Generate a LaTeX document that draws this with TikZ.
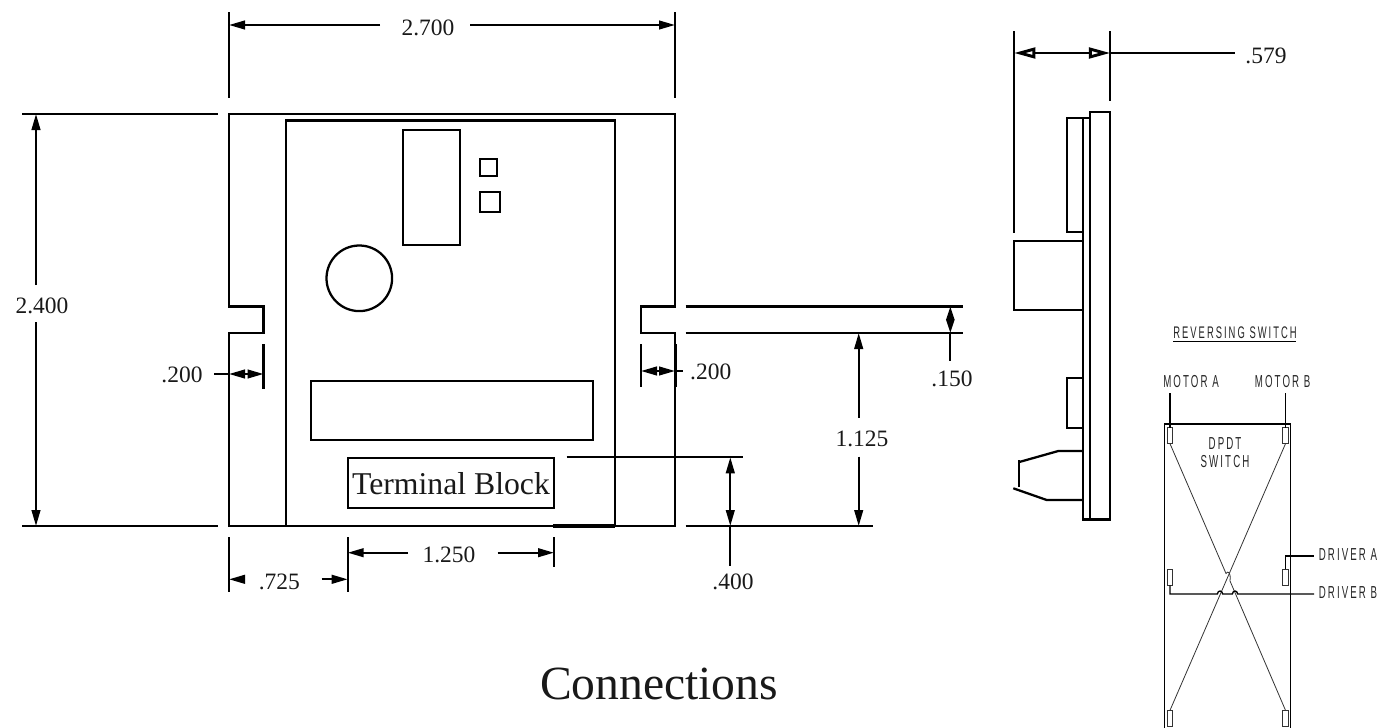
\documentclass[tikz,border=0pt]{standalone}
\usepackage{fontspec}
\setmainfont{Liberation Serif}
\newfontfamily\cadfont[FakeStretch=0.56,LetterSpace=12]{Liberation Sans}
\usetikzlibrary{arrows.meta}
\tikzset{
  partline/.style={line width=1.7pt},
  dimline/.style={line width=1.6pt},
  thinline/.style={line width=0.6pt,color=black!80},
  boxline/.style={line width=1pt},
  dimtip/.style={{Triangle[length=12pt,width=6.5pt]}-{Triangle[length=12pt,width=6.5pt]}},
  endtip/.style={-{Triangle[length=12pt,width=6.5pt]}},
  tiptip/.style={{Triangle[length=10pt,width=6pt]}-{Triangle[length=10pt,width=6pt]}},
  longtip/.style={{Triangle[open,length=16pt,width=8pt,line width=2.2pt]}-{Triangle[open,length=16pt,width=8pt,line width=2.2pt]}},
  dimtext/.style={inner sep=0.75pt,font=\fontsize{17.6}{20}\selectfont,color=black!90},
  cadtext/.style={inner sep=0.75pt,font=\cadfont\fontsize{13}{15}\selectfont,color=black!85}
}
\begin{document}
\begin{tikzpicture}[x=0.75pt,y=0.75pt,yscale=-1,xscale=1]
    \useasboundingbox (0,0) rectangle (1393,728);

    %Plate outline
    \draw [partline] (229,114) -- (675,114) -- (675,306.5) -- (641,306.5) -- (641,333) -- (675,333) -- (675,526) -- (229,526) -- (229,333) -- (263.5,333) -- (263.5,306.5) -- (229,306.5) -- cycle ;
    %Board and parts
    \draw [partline] (286,526) -- (286,120.5) -- (615,120.5) -- (615,526) ;
    \draw [partline] (402.7,130) rectangle (460.3,245.3) ;
    \draw [partline] (480.3,159) rectangle (497.3,176) ;
    \draw [partline] (480.3,191.7) rectangle (499.7,212) ;
    \draw [partline] (359.3,278.3) circle [radius=32.8] ;
    \draw [partline] (311,381) rectangle (593.3,440.3) ;
    \draw [partline] (347.7,457.7) rectangle (554.3,507.7) ;
    \draw [line width=2.4pt] (553,526) -- (615,526) ;

    %Side view
    \draw [partline] (1090,112) rectangle (1110.3,519.5) ;
    \draw [partline] (1083,118) -- (1083,519.5) -- (1090,519.5) ;
    \draw [partline] (1090,118) -- (1067,118) -- (1067,232) -- (1083,232) ;
    \draw [partline] (1083,241.3) -- (1014,241.3) -- (1014,310) -- (1083,310) ;
    \draw [partline] (1083,377.7) -- (1067,377.7) -- (1067,427.7) -- (1083,427.7) ;
    \draw [partline] (1083,451) -- (1058.3,451) -- (1019.3,462) ;
    \draw [partline] (1019,460) -- (1019,486.7) ;
    \draw [partline] (1013.3,488.3) -- (1046.7,500) -- (1083,500) ;

    %Witness lines
    \draw [dimline] (229,12) -- (229,98) (675,12) -- (675,98) ;
    \draw [dimline] (22,114) -- (218,114) (22,526) -- (218,526) ;
    \draw [dimline] (263.5,344) -- (263.5,389) ;
    \draw [dimline] (641,344) -- (641,387) ;
    \draw [line width=2pt] (675.5,344) -- (675.5,387) ;
    \draw [dimline] (685.7,306.5) -- (962.7,306.5) ;
    \draw [dimline] (685.7,333) -- (962.7,333) ;
    \draw [dimline] (685.7,526) -- (873,526) ;
    \draw [dimline] (566.7,457.3) -- (742.7,457.3) ;
    \draw [dimline] (229,537) -- (229,592) (347.7,537) -- (347.7,592) ;
    \draw [dimline] (554,537) -- (554,567) ;
    \draw [dimline] (1014,31) -- (1014,232.5) ;
    \draw [dimline] (1110.3,31) -- (1110.3,101) ;

    %Dimension lines
    \draw [dimline,endtip] (380,25) -- (229,25) ;
    \draw [dimline,endtip] (470,25) -- (675,25) ;
    \draw [dimline,endtip] (36,285) -- (36,114) ;
    \draw [dimline,endtip] (36,322) -- (36,526) ;
    \draw [dimline] (214,374) -- (229,374) ;
    \draw [dimline,dimtip] (229,374) -- (263.5,374) ;
    \draw [dimline,dimtip] (641,371) -- (675,371) ;
    \draw [dimline] (675,371) -- (683,371) ;
    \draw [dimline,tiptip] (950.3,306.5) -- (950.3,333) ;
    \draw [dimline] (950.3,333) -- (950.3,361) ;
    \draw [dimline,endtip] (858.7,417.7) -- (858.7,333) ;
    \draw [dimline,endtip] (858.7,456.7) -- (858.7,526) ;
    \draw [dimline,dimtip] (730.3,457.3) -- (730.3,526) ;
    \draw [dimline] (730.3,526) -- (730.3,565.7) ;
    \draw [dimline,endtip] (408,552.7) -- (347.7,552.7) ;
    \draw [dimline,endtip] (497.7,552.7) -- (554,552.7) ;
    \draw [dimline,endtip] (245,579.3) -- (229,579.3) ;
    \draw [dimline,endtip] (321.7,579.3) -- (347.7,579.3) ;
    \draw [dimline,longtip] (1014,53) -- (1110.3,53) ;
    \draw [dimline] (1110.3,53) -- (1235,53) ;

    %Switch body
    \draw [boxline] (1164.3,728) -- (1164.3,424) -- (1290.3,424) -- (1290.3,728) ;
    \foreach \cx in {1169.8,1285.5} {
        \foreach \cy in {427.7,569.3,710.3} {
            \draw [thinline] (\cx-2.8,\cy) rectangle (\cx+2.8,\cy+16) ;
        }
    }
    %Switch wires
    \draw [boxline] (1170,393.3) -- (1170,427.7) ;
    \draw [boxline] (1285.5,393.3) -- (1285.5,427.7) ;
    \draw [thinline] (1285.5,443.7) -- (1170,710.3) ;
    \draw [thinline] (1170,443.7) -- (1226,573.5) .. controls (1228,570.5) and (1231,572) .. (1230,581) -- (1285.5,710.3) ;
    \draw [boxline] (1285.5,569.3) -- (1285.5,556) -- (1314,556) ;
    \draw [boxline] (1170,585.3) -- (1170,594) -- (1217.3,594) .. controls (1218,590) and (1222,590) .. (1222.7,594) -- (1232.3,594) .. controls (1233,590) and (1237,590) .. (1237.7,594) -- (1314,594) ;
    \draw [boxline] (1173,341.7) -- (1296,341.7) ;

    % Text Node
    \draw (428,28) node (dimwidth) [dimtext] {2.700};
    % Text Node
    \draw (42,306) node (dimheight) [dimtext] {2.400};
    % Text Node
    \draw (182,375) node (dimnotchl) [dimtext] {.200};
    % Text Node
    \draw (710.7,372) node (dimnotchr) [dimtext] {.200};
    % Text Node
    \draw (952,379) node (dimslot) [dimtext] {.150};
    % Text Node
    \draw (862,439) node (dimcenter) [dimtext] {1.125};
    % Text Node
    \draw (733,582) node (dimblock) [dimtext] {.400};
    % Text Node
    \draw (449,555) node (dimblockw) [dimtext] {1.250};
    % Text Node
    \draw (279.3,582) node (dimoffset) [dimtext] {.725};
    % Text Node
    \draw (1266,56) node (dimdepth) [dimtext] {.579};
    % Text Node
    \draw (451,484) node (terminalblock) [inner sep=0.75pt,font=\fontsize{23.8}{28}\selectfont,color=black!90] {Terminal Block};
    % Text Node
    \draw (659,684) node (connections) [inner sep=0.75pt,font=\fontsize{35.7}{42}\selectfont,color=black!90] {Connections};
    % Text Node
    \draw (1235,333) node (switchtitle) [cadtext,font=\cadfont\fontsize{12.6}{15}\selectfont] {REVERSING SWITCH};
    % Text Node
    \draw (1191,381.7) node (motora) [cadtext] {MOTOR A};
    % Text Node
    \draw (1282.7,381.7) node (motorb) [cadtext] {MOTOR B};
    % Text Node
    \draw (1225,443.3) node (dpdt) [cadtext] {DPDT};
    % Text Node
    \draw (1225,462) node (switchname) [cadtext] {SWITCH};
    % Text Node
    \draw (1348,555) node (drivera) [cadtext] {DRIVER A};
    % Text Node
    \draw (1348,593) node (driverb) [cadtext] {DRIVER B};
\end{tikzpicture}
\end{document}
